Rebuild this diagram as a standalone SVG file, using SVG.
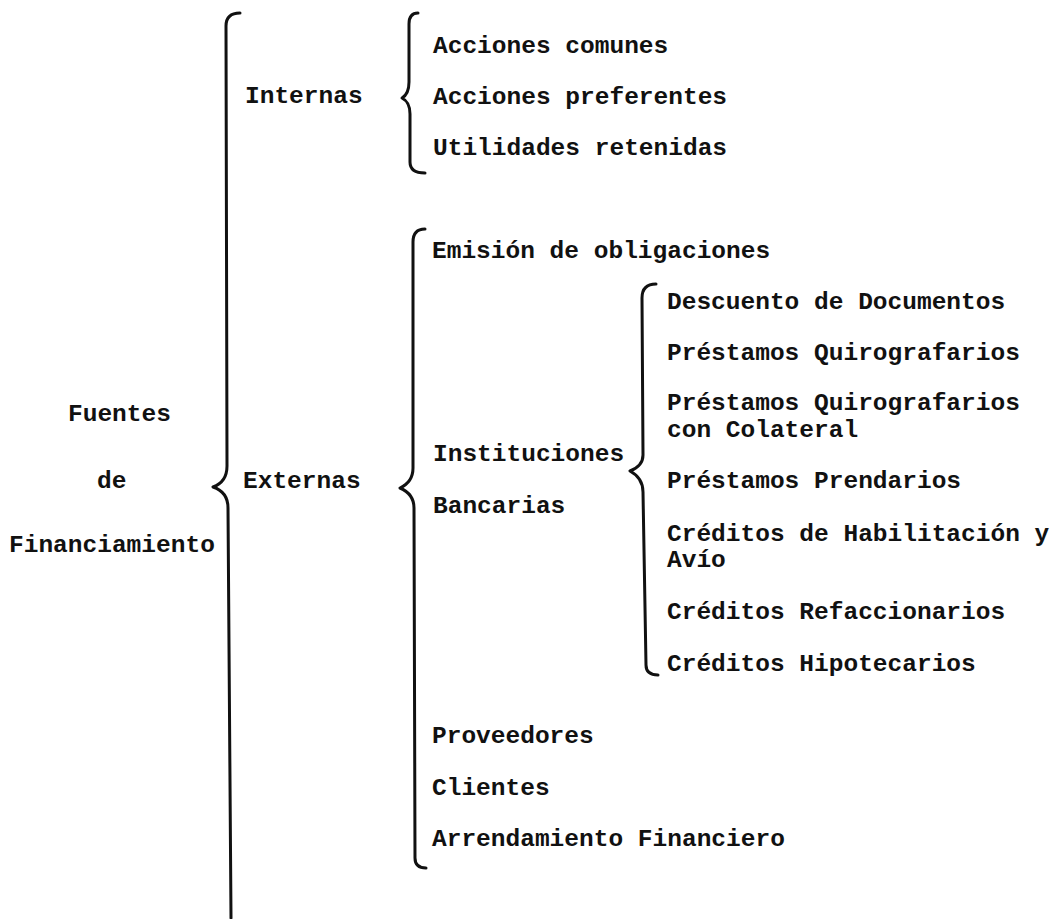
<svg xmlns="http://www.w3.org/2000/svg" width="1057" height="919" viewBox="0 0 1057 919">
<style>
text{font-family:"Liberation Mono","Courier New",monospace;font-size:24.5px;font-weight:bold;fill:#111}
.brace{fill:none;stroke:#111;stroke-width:3;stroke-linecap:round;stroke-linejoin:round}
</style>
<rect width="1057" height="919" fill="#fff"/>
<g id="connectors">
<path class="brace" d="M240,13 Q226,13 226,26 L227,466 Q227,482 213,487 Q228,492 228,508 L231,918"/>
<path class="brace" d="M418,13 Q409,13 409,24 L409,82 Q409,94 402,98 Q410,102 410,114 L410,162 Q410,173 425,173"/>
<path class="brace" d="M425,229 Q413,229 413,242 L413,468 Q413,482 400,488 Q414,494 414,508 L415,858 Q415,868 426,868"/>
<path class="brace" d="M656,284 Q642,284 642,298 L643,455 Q643,466 630,471 Q643,478 643,492 L646,665 Q646,675 658,675"/>
</g>
<g id="root"><text x="68" y="421">Fuentes</text><text x="97" y="488">de</text><text x="9" y="552">Financiamiento</text></g>
<g id="internas"><text x="245" y="103">Internas</text></g>
<g id="externas"><text x="243" y="488">Externas</text></g>
<g id="acciones-comunes"><text x="433" y="53">Acciones comunes</text></g>
<g id="acciones-preferentes"><text x="433" y="104">Acciones preferentes</text></g>
<g id="utilidades"><text x="433" y="155">Utilidades retenidas</text></g>
<g id="emision"><text x="432" y="258">Emisión de obligaciones</text></g>
<g id="instituciones"><text x="433" y="461">Instituciones</text><text x="433" y="513">Bancarias</text></g>
<g id="descuento"><text x="667" y="309">Descuento de Documentos</text></g>
<g id="quirografarios"><text x="667" y="360">Préstamos Quirografarios</text></g>
<g id="quirografarios-colateral"><text x="667" y="410">Préstamos Quirografarios</text><text x="667" y="437">con Colateral</text></g>
<g id="prendarios"><text x="667" y="488">Préstamos Prendarios</text></g>
<g id="habilitacion"><text x="667" y="541">Créditos de Habilitación y</text><text x="667" y="567">Avío</text></g>
<g id="refaccionarios"><text x="667" y="619">Créditos Refaccionarios</text></g>
<g id="hipotecarios"><text x="667" y="671">Créditos Hipotecarios</text></g>
<g id="proveedores"><text x="432" y="743">Proveedores</text></g>
<g id="clientes"><text x="432" y="795">Clientes</text></g>
<g id="arrendamiento"><text x="432" y="846">Arrendamiento Financiero</text></g>
</svg>
